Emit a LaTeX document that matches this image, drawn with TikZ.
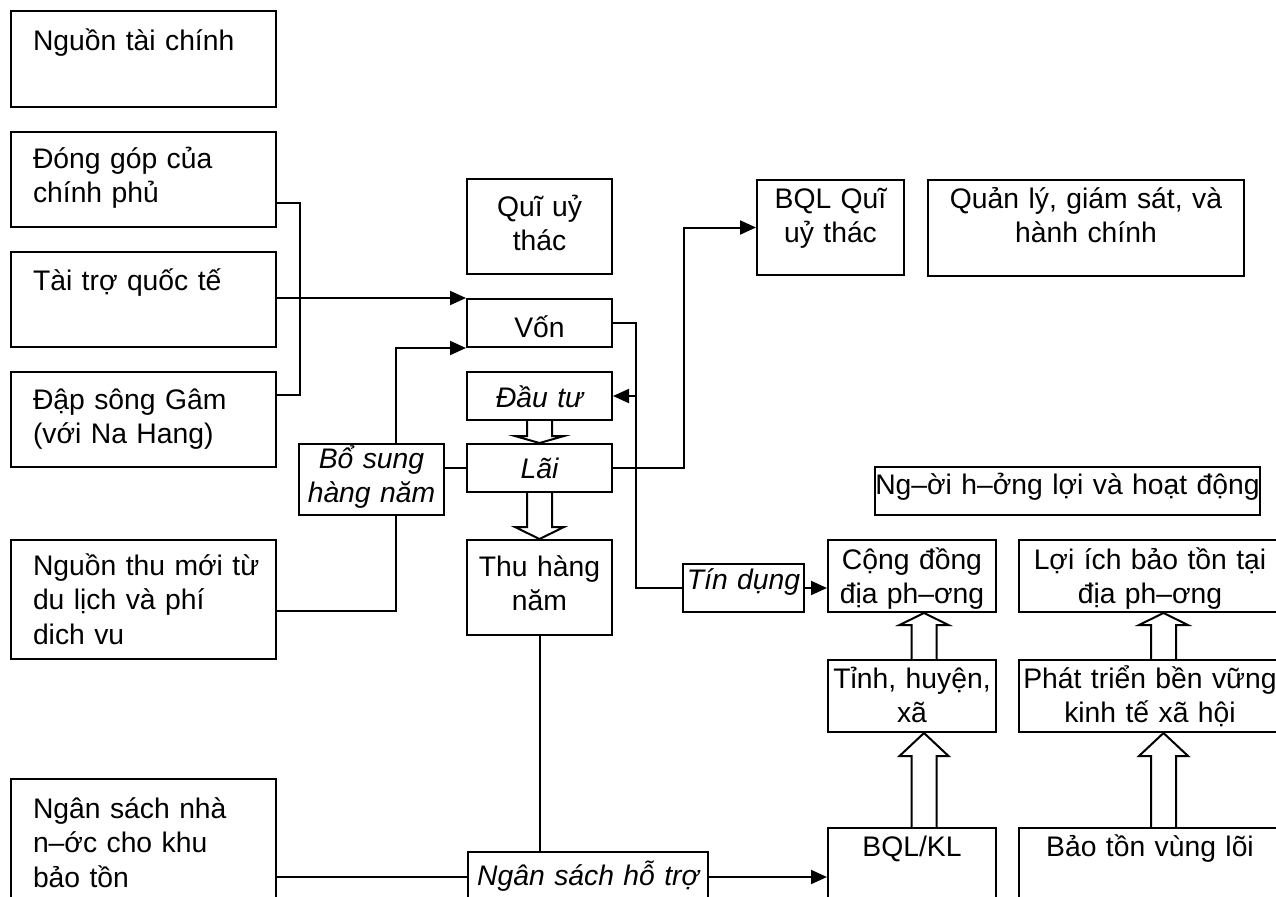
\documentclass[tikz,border=0pt]{standalone}
\usepackage{fontspec}
\setmainfont{Liberation Sans}
\usepackage{tikz}
\usetikzlibrary{arrows.meta,calc}
\tikzset{
    every node/.style={font=\fontsize{14.15}{17.3}\selectfont}, % 字体
    it/.style={font=\fontsize{14.15}{17.3}\selectfont\itshape},
    lbox/.style n args={3}{draw, line width=1pt, anchor=north west, align=left,
        inner xsep=1pt, inner ysep=0pt, text width={(#1-4)*0.5pt},
        execute at begin node={\leftskip=10pt},
        text height={#3*0.5pt}, text depth={(#2-#3)*0.5pt}},
    cbox/.style n args={3}{draw, line width=1pt, anchor=north west, align=center,
        inner xsep=0pt, inner ysep=0pt, text width={#1*0.5pt},
        text height={#3*0.5pt}, text depth={(#2-#3)*0.5pt}},
    line/.style={line width=1pt},
    link/.style={line width=1pt, -{Triangle[length=8pt,width=7pt]}},
    fatdown/.style={line width=1pt, to path={let \p1=(\tikztostart), \p2=(\tikztotarget) in
        (\x1-6.25pt,\y1) -- (\x1-6.25pt,\y2+#1) -- (\x1-12.25pt,\y2+#1) -- (\x1,\y2)
        -- (\x1+12.25pt,\y2+#1) -- (\x1+6.25pt,\y2+#1) -- (\x1+6.25pt,\y1)}},
    fatup/.style={line width=1pt, to path={let \p1=(\tikztostart), \p2=(\tikztotarget) in
        (\x1-6.25pt,\y1) -- (\x1-6.25pt,\y2-#1) -- (\x1-12.25pt,\y2-#1) -- (\x1,\y2)
        -- (\x1+12.25pt,\y2-#1) -- (\x1+6.25pt,\y2-#1) -- (\x1+6.25pt,\y1)}}
}

\begin{document}
\begin{tikzpicture}[x=0.5pt, y=-0.5pt]
    \useasboundingbox (0,0) rectangle (1276,896);

    % 资金来源
    \node (nguon) [lbox={265}{96}{39}] at (10,10) {Nguồn tài chính};
    \node (dong) [lbox={265}{95}{36}] at (10,131) {Đóng góp của\\chính phủ};
    \node (taitro) [lbox={265}{95}{38}] at (10,251) {Tài trợ quốc tế};
    \node (dap) [lbox={265}{95}{37}] at (10,371) {Đập sông Gâm\\(với Na Hang)};
    \node (nguonthu) [lbox={265}{119}{35}] at (10,539) {Nguồn thu mới từ\\du lịch và phí\\dich vu};
    \node (ngansach) [lbox={265}{140}{39}] at (10,778) {Ngân sách nhà\\n–ớc cho khu\\bảo tồn};

    % 信托基金
    \node (quy) [cbox={145}{95}{37}] at (466,178) {Quĩ uỷ\\thác};
    \node (von) [cbox={145}{48}{38}] at (466,298) {Vốn};
    \node (dautu) [cbox={145}{48}{35}, it] at (466,371) {Đầu tư};
    \node (lai) [cbox={145}{48}{34}, it] at (466,443) {Lãi};
    \node (bosung) [cbox={145}{71}{24}, it] at (298,443) {Bổ sung\\hàng năm};
    \node (thu) [cbox={145}{95}{36}] at (466,539) {Thu hàng\\năm};
    \node (hotro) [cbox={240}{50}{33}, it] at (467,851) {Ngân sách hỗ trợ};
    \node (tindung) [cbox={121}{48}{25}, it] at (682,563) {Tín dụng};

    % 管理
    \node (bqlquy) [cbox={147}{95}{28}] at (756,179) {BQL Quĩ\\uỷ thác};
    \node (quanly) [cbox={316}{96}{28}] at (927,179) {Quản lý, giám sát, và\\hành chính};

    % 受益者与活动
    \node (nguoi) [cbox={385}{48}{27}] at (874,466) {\mbox{Ng–ời h–ởng lợi và hoạt động}};
    \node (congdong) [cbox={168}{72}{29}] at (827,539) {Cộng đồng\\địa ph–ơng};
    \node (tinh) [cbox={168}{72}{28}] at (827,659) {Tỉnh, huyện,\\xã};
    \node (bqlkl) [cbox={168}{120}{28}] at (827,827) {BQL/KL};
    \node (loiich) [cbox={262}{72}{29}] at (1018,539) {Lợi ích bảo tồn tại\\địa ph–ơng};
    \node (phattrien) [cbox={262}{72}{28}] at (1018,659) {Phát triển bền vững\\kinh tế xã hội};
    \node (baoton) [cbox={262}{120}{28}] at (1018,827) {Bảo tồn vùng lõi};

    % 细线连接
    \draw[line] ([yshift=-11.75pt]dong.east) -| ([xshift=11.5pt,yshift=12.25pt]dap.east) -- ([yshift=12.25pt]dap.east);
    \draw[link] (taitro.east |- von.north west) -- (von.north west);
    \draw[line] ([yshift=-5.75pt]nguonthu.east) -| ([xshift=12.25pt]bosung.south);
    \draw[link] ([xshift=12.25pt]bosung.north) |- (von.south west);
    \draw[line] (bosung.east |- lai.west) -- (lai.west);
    \draw[link] (lai.east) -- ++(71,0) |- (bqlquy.west);
    \draw[line] (von.east) -- ++(23,0) |- (tindung.west);
    \draw[link] ([xshift=11.5pt]dautu.east) -- (dautu.east);
    \draw[link] (tindung.east) -- (tindung.east -| congdong.west);
    \draw[line] (thu.south) -- (thu.south |- hotro.north);
    \draw[line] (ngansach.east |- hotro.west) -- (hotro.west);
    \draw[link] (hotro.east) -- (hotro.east -| bqlkl.west);

    % 空心粗箭头
    \draw[fatdown=3.5pt] (dautu.south) to (lai.north);
    \draw[fatdown=6pt] (lai.south) to (thu.north);
    \draw[fatup=6pt] ([xshift=6pt]tinh.north) to ([xshift=6pt]congdong.south);
    \draw[fatup=11.5pt] ([xshift=6pt]bqlkl.north) to ([xshift=6pt]tinh.south);
    \draw[fatup=6pt] ([xshift=6.75pt]phattrien.north) to ([xshift=6.75pt]loiich.south);
    \draw[fatup=11.5pt] ([xshift=6.75pt]baoton.north) to ([xshift=6.75pt]phattrien.south);
\end{tikzpicture}
\end{document}
